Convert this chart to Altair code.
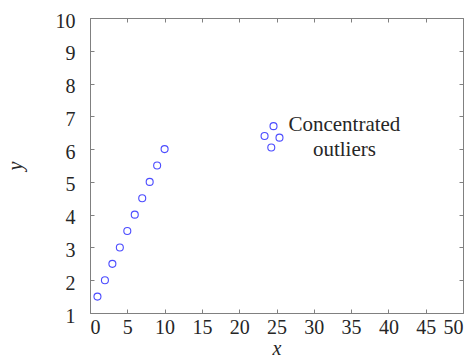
import altair as alt
import pandas as pd

# ---- data ----
x_main = [1, 2, 3, 4, 5, 6, 7, 8, 9, 10]
y_main = [1.5, 2, 2.5, 3, 3.5, 4, 4.5, 5, 5.5, 6]
x_out = [24.6, 23.4, 25.4, 24.3]
y_out = [6.7, 6.4, 6.35, 6.05]
x_ticks = [0, 5, 10, 15, 20, 25, 30, 35, 40, 45, 50]
y_ticks = [1, 2, 3, 4, 5, 6, 7, 8, 9, 10]
note_text = "Concentrated\noutliers"
note_x = [34.1]
note_y = [6.56]

# ---- style ----
W, H = 373, 295
FONT = "Liberation Serif"
GRAY = "#808080"
INK = "#262626"

pts = pd.DataFrame({"x": x_main + x_out, "y": y_main + y_out})
note = pd.DataFrame({"x": note_x, "y": note_y, "t": [note_text]})

xs = alt.Scale(domain=[0, 50], nice=False, zero=False)
ys = alt.Scale(domain=[1, 10], nice=False, zero=False)

common = dict(grid=False, labelFont=FONT, labelFontSize=20, labelColor=INK,
              titleFont=FONT, titleFontSize=20, titleFontStyle="italic",
              titleFontWeight="normal", titleColor=INK)

# main axes: labels + titles, bottom & left frame lines
ax_x_main = alt.Axis(orient="bottom", values=x_ticks, ticks=False, tickSize=0,
                     domain=True, domainColor=GRAY, domainWidth=1,
                     labelPadding=4, title="x", titlePadding=1, **common)
ax_y_main = alt.Axis(orient="left", values=y_ticks, ticks=False, tickSize=0,
                     domain=True, domainColor=GRAY, domainWidth=1,
                     labelPadding=15, labelOffset=3, title="y", titlePadding=30,
                     **common)

# inward ticks at bottom/left (axes flipped across the plot)
ax_x_in1 = alt.Axis(orient="top", offset=-H, values=x_ticks, labels=False, ticks=True,
                    tickSize=4, tickColor=GRAY, domain=False, title=None, grid=False)
ax_y_in1 = alt.Axis(orient="right", offset=-W, values=y_ticks, labels=False, ticks=True,
                    tickSize=4, tickColor=GRAY, domain=False, title=None, grid=False)
# inward ticks at top/right plus top/right frame lines
ax_x_in2 = alt.Axis(orient="bottom", offset=-H, values=x_ticks, labels=False, ticks=True,
                    tickSize=4, tickColor=GRAY, domain=True, domainColor=GRAY,
                    title=None, grid=False)
ax_y_in2 = alt.Axis(orient="left", offset=-W, values=y_ticks, labels=False, ticks=True,
                    tickSize=4, tickColor=GRAY, domain=True, domainColor=GRAY,
                    title=None, grid=False)

points = alt.Chart(pts).mark_point(shape="circle", filled=False, color="#0000ff",
                                   size=49, strokeWidth=1.1).encode(
    x=alt.X("x:Q", scale=xs, axis=ax_x_main),
    y=alt.Y("y:Q", scale=ys, axis=ax_y_main),
)

label = alt.Chart(note).mark_text(font=FONT, fontSize=21, color=INK, align="center",
                                  baseline="alphabetic", lineBreak="\n",
                                  lineHeight=25.5).encode(
    x=alt.X("x:Q", scale=xs, axis=ax_x_in1),
    y=alt.Y("y:Q", scale=ys, axis=ax_y_in1),
    text="t:N",
)

frame = alt.Chart(pts).mark_point(opacity=0).encode(
    x=alt.X("x:Q", scale=xs, axis=ax_x_in2),
    y=alt.Y("y:Q", scale=ys, axis=ax_y_in2),
)

chart = alt.layer(points, label, frame).resolve_axis(
    x="independent", y="independent"
).properties(
    width=W, height=H,
    autosize=alt.AutoSizeParams(type="none"),
    padding={"left": 82, "top": 10, "right": 2, "bottom": 47},
).configure_view(stroke=None).configure(background="white")

chart.save("out.html", embed_options={"renderer": "svg", "actions": False})
